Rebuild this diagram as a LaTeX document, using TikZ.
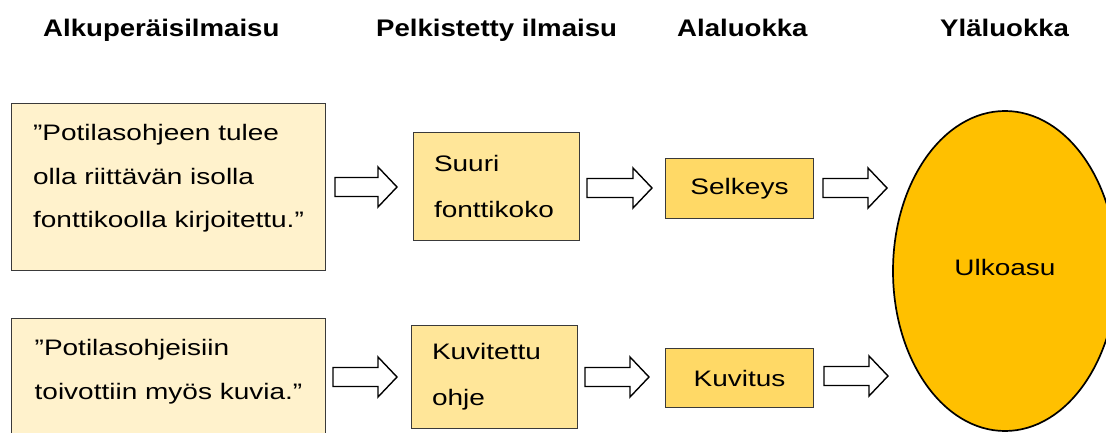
\documentclass[tikz,border=0pt]{standalone}
\usepackage{fontspec}
\setmainfont{Liberation Sans}
\newfontfamily\bodyf{Liberation Sans}[FakeStretch=1.25]
\newfontfamily\headf{Liberation Sans}[FakeStretch=1.15]
\usetikzlibrary{shapes.geometric}
\definecolor{cquote}{HTML}{FFF2CC}
\definecolor{csimple}{HTML}{FFE699}
\definecolor{csub}{HTML}{FFD966}
\definecolor{cmain}{HTML}{FFC000}
\definecolor{boxline}{HTML}{3A3A3A}
\tikzset{
  head/.style={anchor=base west, inner sep=0pt, font=\headf\bfseries\fontsize{24}{28}\selectfont},
  bodytext/.style={font=\bodyf\fontsize{22.4}{43.5}\selectfont},
  quotebox/.style={bodytext, draw=boxline, line width=1pt, fill=cquote, anchor=north west,
    minimum width=314pt, align=left, inner sep=0pt},
  simplebox/.style={bodytext, draw=boxline, line width=1pt, fill=csimple, anchor=north west,
    text width=125pt, inner xsep=20.5pt, inner ysep=0pt, align=left,
    font=\bodyf\fontsize{22.4}{46}\selectfont},
  subbox/.style={bodytext, draw=boxline, line width=1pt, fill=csub, anchor=north west,
    minimum width=148pt, minimum height=60pt, inner sep=0pt},
  mainclass/.style={bodytext, ellipse, draw=black, line width=1.7pt, fill=cmain,
    minimum width=224pt, minimum height=320pt, inner sep=0pt, text depth=8pt},
  barrow/.style={draw=black, line width=1.4pt, fill=white, line join=miter}
}
\newcommand\blockarrow[3]{%
  \draw[barrow] (#1,#3-9.5) -- (#2-19,#3-9.5) -- (#2-19,#3-20) -- (#2,#3)
    -- (#2-19,#3+20) -- (#2-19,#3+9.5) -- (#1,#3+9.5) -- cycle;}
\begin{document}
\begin{tikzpicture}[x=1pt,y=-1pt]
\useasboundingbox (0,0) rectangle (1106,433);
\clip (0,0) rectangle (1106,433);
% headers
\node[head] (h1) at (43,37) {Alkuperäisilmaisu};
\node[head] (h2) at (376,37) {Pelkistetty ilmaisu};
\node[head] (h3) at (677,37) {Alaluokka};
\node[head] (h4) at (940,37) {Yläluokka};
% row 1
\node[quotebox] (q1) at (11,103) {\rule{0pt}{37pt}”Potilasohjeen tulee\\olla riittävän isolla\\fonttikoolla kirjoitettu.”\rule[-43pt]{0pt}{0pt}};
\node[simplebox, minimum height=108pt] (s1) at (413,132) {Suuri\\fonttikoko};
\node[subbox] (a1) at (665,158) {Selkeys};
% row 2
\node[quotebox] (q2) at (11,318) {\rule{0pt}{37pt}”Potilasohjeisiin\\toivottiin myös kuvia.”\rule[-100pt]{0pt}{0pt}};
\node[simplebox, minimum height=103pt] (s2) at (411,325) {Kuvitettu\\ohje};
\node[subbox, minimum height=59pt] (a2) at (665,348) {Kuvitus};
% main class
\node[mainclass] (m) at (1005,271) {Ulkoasu};
% block arrows
\blockarrow{335}{397}{187}
\blockarrow{587}{652}{188}
\blockarrow{823}{887}{188}
\blockarrow{333}{397}{377}
\blockarrow{585}{649}{377}
\blockarrow{824}{888}{376}
\end{tikzpicture}
\end{document}
